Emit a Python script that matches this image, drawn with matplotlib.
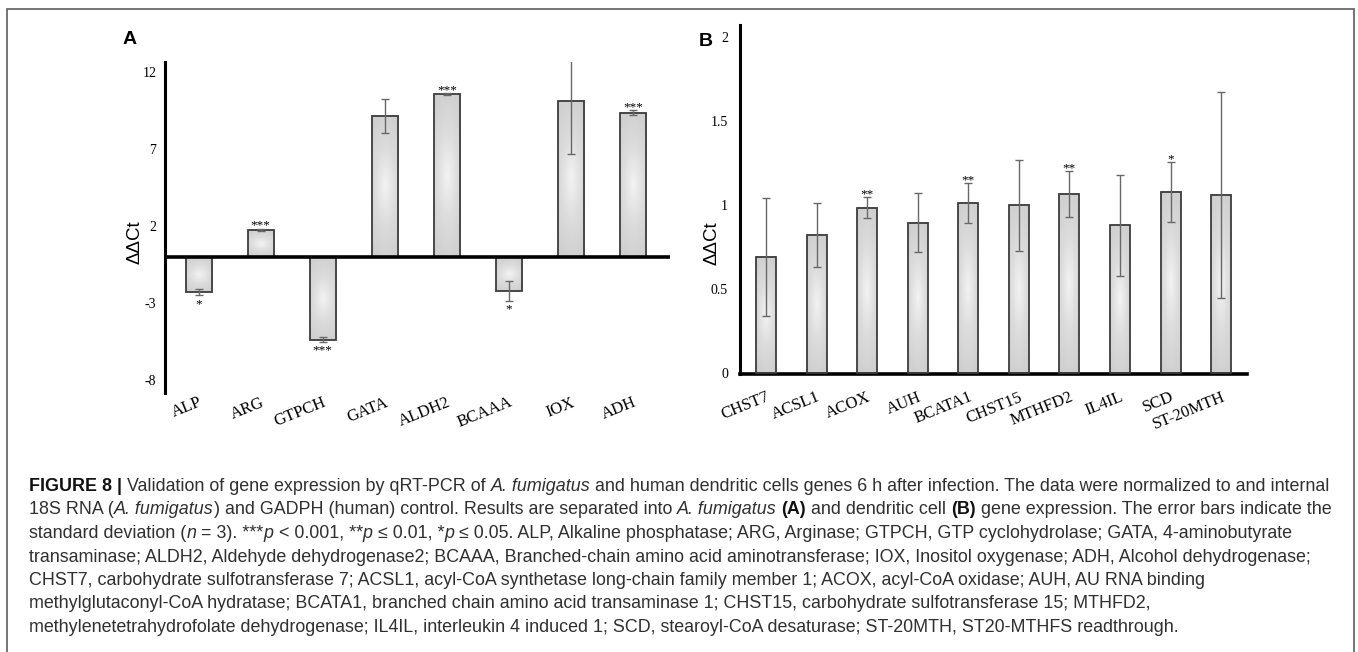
import numpy as np
import matplotlib
matplotlib.use("Agg")
import matplotlib.pyplot as plt
from matplotlib.colors import LinearSegmentedColormap
from matplotlib.patches import Rectangle

# panel A: A. fumigatus genes
genes_a = ["ALP", "ARG", "GTPCH", "GATA", "ALDH2", "BCAAA", "IOX", "ADH"]
ddct_a = [-2.27, 1.75, -5.36, 9.18, 10.56, -2.2, 10.15, 9.37]
err_a = [0.22, 0.08, 0.16, 1.1, 0.06, 0.63, 3.47, 0.17]
sig_a = ["*", "***", "***", "", "***", "*", "", "***"]
yticks_a = [-8, -3, 2, 7, 12]

# panel B: dendritic cell genes
genes_b = ["CHST7", "ACSL1", "ACOX", "AUH", "BCATA1", "CHST15", "MTHFD2",
           "IL4IL", "SCD", "ST-20MTH"]
ddct_b = [0.69, 0.82, 0.984, 0.895, 1.012, 1.0, 1.065, 0.88, 1.077, 1.06]
err_b = [0.35, 0.19, 0.063, 0.175, 0.12, 0.27, 0.137, 0.3, 0.178, 0.61]
sig_b = ["", "", "**", "", "**", "", "**", "", "*", ""]
yticks_b = [0, 0.5, 1, 1.5, 2]
yticklabels_b = ["0", "0.5", "1", "1.5", "2"]

W, H = 1358, 652
fig = plt.figure(figsize=(W / 100, H / 100), dpi=100)

def box(x0, top, x1, bottom):
    return [x0 / W, 1 - bottom / H, (x1 - x0) / W, (bottom - top) / H]

serif = "Liberation Serif"
sans = "Liberation Sans"

u, v = np.meshgrid(np.linspace(-1, 1, 40), np.linspace(-1, 1, 120))
grad = np.clip(1 - np.sqrt(0.4 * u ** 2 + 0.85 * v ** 2), 0, 1)
cm = LinearSegmentedColormap.from_list("bar", ["#cfcfcf", "#dcdcdc", "#f3f3f3"])


def draw(ax, vals, errs, sig, width):
    x = np.arange(len(vals))
    bars = ax.bar(x, vals, width=width, facecolor="none", edgecolor="#3c3c3c",
                  lw=1.3, zorder=3)
    for b in bars:
        x0, y0 = b.get_x(), b.get_y()
        ax.imshow(grad, extent=(x0, x0 + b.get_width(), y0, y0 + b.get_height()),
                  cmap=cm, vmin=0, vmax=1, aspect="auto", zorder=2,
                  interpolation="bicubic", clip_path=b)
    ax.errorbar(x, vals, yerr=errs, fmt="none", ecolor="#686868", elinewidth=1,
                capsize=3, capthick=1, zorder=4)
    for i in range(len(vals)):
        if not sig[i]:
            continue
        if vals[i] >= 0:
            ax.annotate(sig[i], (x[i], vals[i] + errs[i]), xytext=(0, 0),
                        textcoords="offset points", ha="center", va="baseline",
                        fontsize=9.5, family=serif, zorder=6)
        else:
            ax.annotate(sig[i], (x[i], vals[i] - errs[i]), xytext=(0, -8.5),
                        textcoords="offset points", ha="center", va="baseline",
                        fontsize=9.5, family=serif, zorder=6)
    for s in ["top", "right"]:
        ax.spines[s].set_visible(False)
    ax.spines["left"].set_linewidth(2.2)
    ax.set_xticks(x)
    ax.tick_params(axis="both", length=0)
    ax.set_facecolor("none")
    return x


# ---- panel A
axA = fig.add_axes(box(164.8, 61.7, 670, 393))
draw(axA, ddct_a, err_a, sig_a, 0.42)
axA.spines["bottom"].set_visible(False)
axA.axhline(0, color="black", lw=2.6, zorder=5)
axA.set_xlim(-0.545, 7.596)
axA.set_ylim(-8.83, 12.68)
axA.set_yticks(yticks_a)
axA.set_yticklabels([str(t) for t in yticks_a], family=serif, fontsize=10)
axA.set_xticklabels(genes_a, rotation=22, ha="right", rotation_mode="anchor",
                    family=serif, fontsize=12)
axA.tick_params(axis="y", pad=6)
axA.tick_params(axis="x", pad=1)

# ---- panel B
axB = fig.add_axes(box(740.5, 25, 1246.5, 374))
draw(axB, ddct_b, err_b, sig_b, 0.395)
axB.spines["bottom"].set_linewidth(2.6)
axB.set_xlim(-0.504, 9.5)
axB.set_ylim(-0.003, 2.07)
axB.set_yticks(yticks_b)
axB.set_yticklabels(yticklabels_b, family=serif, fontsize=10)
axB.set_xticklabels(genes_b, rotation=22, ha="right", rotation_mode="anchor",
                    family=serif, fontsize=12)
axB.tick_params(axis="y", pad=9)
axB.tick_params(axis="x", pad=11)

# labels
fig.text(130 / W, 1 - 40 / H, "A", ha="center", va="center", fontsize=14,
         weight="bold", family=sans)
fig.text(706 / W, 1 - 42 / H, "B", ha="center", va="center", fontsize=14,
         weight="bold", family=sans)
fig.text(135 / W, 1 - 242 / H, "ΔΔCt", rotation=90, ha="center", va="center",
         fontsize=13.5, family=sans)
fig.text(712 / W, 1 - 243 / H, "ΔΔCt", rotation=90, ha="center", va="center",
         fontsize=13.5, family=sans)

# frame
fig.patches.append(Rectangle((7 / W, -0.05), 1347 / W, (H - 9) / H + 0.05,
                             transform=fig.transFigure, fill=False,
                             edgecolor="#6a6a6a", lw=1.3))

# caption
N, I, B = "normal", "italic", "bold"
caption = [
    [("FIGURE 8 | ", B), ("Validation of gene expression by qRT-PCR of ", N),
     ("A. fumigatus", I),
     (" and human dendritic cells genes 6 h after infection. The data were normalized to and internal", N)],
    [("18S RNA (", N), ("A. fumigatus", I),
     (") and GADPH (human) control. Results are separated into ", N),
     ("A. fumigatus", I), (" ", N), ("(A)", B), (" and dendritic cell ", N),
     ("(B)", B), (" gene expression. The error bars indicate the", N)],
    [("standard deviation (", N), ("n", I), (" = 3). ***", N), ("p", I),
     (" < 0.001, **", N), ("p", I), (" ≤ 0.01, *", N), ("p", I),
     (" ≤ 0.05. ALP, Alkaline phosphatase; ARG, Arginase; GTPCH, GTP cyclohydrolase; GATA, 4-aminobutyrate", N)],
    [("transaminase; ALDH2, Aldehyde dehydrogenase2; BCAAA, Branched-chain amino acid aminotransferase; IOX, Inositol oxygenase; ADH, Alcohol dehydrogenase;", N)],
    [("CHST7, carbohydrate sulfotransferase 7; ACSL1, acyl-CoA synthetase long-chain family member 1; ACOX, acyl-CoA oxidase; AUH, AU RNA binding", N)],
    [("methylglutaconyl-CoA hydratase; BCATA1, branched chain amino acid transaminase 1; CHST15, carbohydrate sulfotransferase 15; MTHFD2,", N)],
    [("methylenetetrahydrofolate dehydrogenase; IL4IL, interleukin 4 induced 1; SCD, stearoyl-CoA desaturase; ST-20MTH, ST20-MTHFS readthrough.", N)],
]

renderer = fig.canvas.get_renderer()


def seg_props(style, size):
    kw = dict(fontsize=size, family=sans, color="#303030")
    if style == I:
        kw["style"] = "italic"
    if style == B:
        kw["weight"] = "bold"
        kw["color"] = "#111111"
    return kw


def width(txt, style, size):
    t1 = fig.text(0, 0, txt + "x", **seg_props(style, size))
    t2 = fig.text(0, 0, "x", **seg_props(style, size))
    w = t1.get_window_extent(renderer).width - t2.get_window_extent(renderer).width
    t1.remove()
    t2.remove()
    return w


# size so that the first line spans the same width as in the figure
line1 = sum(width(s, st, 12) for s, st in caption[0])
csize = 12 * (1327 - 29) / line1

for k, line in enumerate(caption):
    x = 29
    y = 491 + 23.5 * k
    for s, st in line:
        fig.text(x / W, 1 - y / H, s, va="baseline", ha="left",
                 **seg_props(st, csize))
        x += width(s, st, csize)

fig.savefig("out.png", dpi=100)
